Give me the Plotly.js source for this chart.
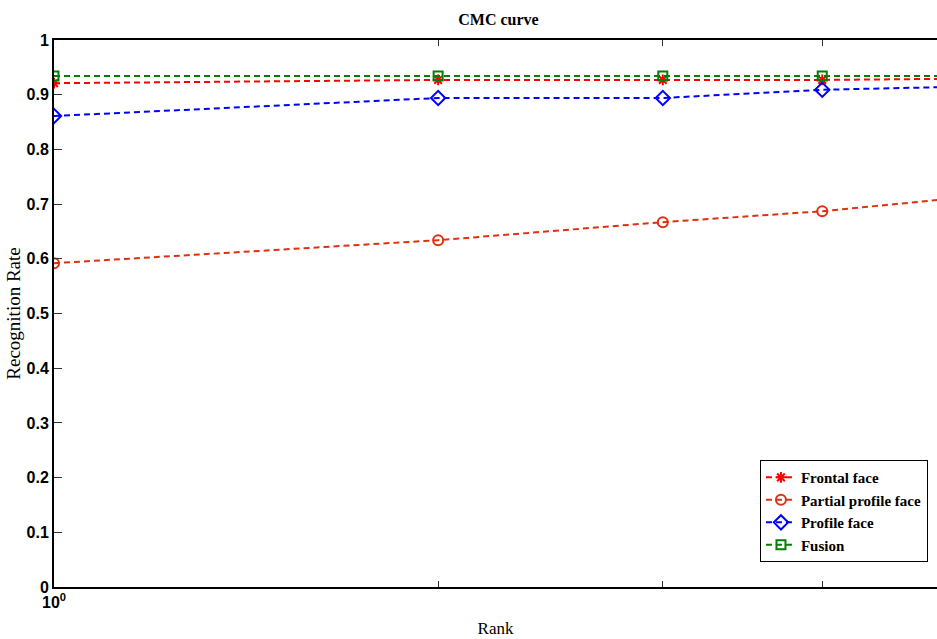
<!DOCTYPE html>
<html><head><meta charset="utf-8">
<script src="https://cdn.plot.ly/plotly-3.0.1.min.js"></script>
<style>html,body{margin:0;padding:0;background:#fff}#chart{width:937px;height:639px}</style>
</head><body><div id="chart"></div>
<script>
const rank = [1, 2, 3, 4, 5];
const frontal = [0.921, 0.927, 0.927, 0.927, 0.929];
const partial = [0.592, 0.634, 0.667, 0.687, 0.709];
const profile = [0.861, 0.894, 0.894, 0.909, 0.914];
const fusion = [0.934, 0.934, 0.934, 0.934, 0.934];
const yTicks = [0, 0.1, 0.2, 0.3, 0.4, 0.5, 0.6, 0.7, 0.8, 0.9, 1];
const yTickText = ['0', '0.1', '0.2', '0.3', '0.4', '0.5', '0.6', '0.7', '0.8', '0.9', '1'];
const xTicks = [1, 2, 3, 4];
const xTickText = ['10<sup>0</sup>', '', '', ''];

function tr(name, y, color, symbol, size) {
  return {x: rank, y: y, name: name, type: 'scatter', mode: 'lines+markers',
    line: {color: color, width: 2, dash: '6px,4px'},
    marker: {symbol: symbol, size: size, color: color, line: {color: color, width: 2}},
    cliponaxis: true};
}
const data = [
  tr('Frontal face', frontal, '#ff0000', 'asterisk-open', 9),
  tr('Partial profile face', partial, '#e03010', 'circle-open', 10),
  tr('Profile face', profile, '#0000ff', 'diamond-open', 11),
  tr('Fusion', fusion, '#008000', 'square-open', 9)
];
const tickFont = {family: 'Liberation Sans Narrow, Liberation Sans', size: 16, color: '#000', weight: 'bold'};
const layout = {
  width: 937, height: 639,
  margin: {l: 54, r: 0, t: 40, b: 52},
  paper_bgcolor: '#fff', plot_bgcolor: '#fff',
  showlegend: true,
  title: {text: 'CMC curve', x: 0.532, xanchor: 'center', y: 0.978, yanchor: 'top',
    font: {family: 'Liberation Serif', size: 16, color: '#000', weight: 'bold'}},
  xaxis: {type: 'log', range: [0, 0.692], tickvals: xTicks, ticktext: xTickText,
    ticks: 'inside', ticklen: 6, tickcolor: '#333', showline: true, linecolor: '#000', linewidth: 2,
    mirror: 'ticks', showgrid: false, zeroline: false,
    tickfont: tickFont,
    title: {text: 'Rank', standoff: 12, font: {family: 'Liberation Serif', size: 17, color: '#000'}}},
  yaxis: {range: [0, 1], tickvals: yTicks, ticktext: yTickText,
    ticks: 'inside', ticklen: 8, tickcolor: '#333', showline: true, linecolor: '#000', linewidth: 2,
    mirror: false, showgrid: false, zeroline: false,
    tickfont: tickFont,
    title: {text: 'Recognition Rate', standoff: 1, font: {family: 'Liberation Serif', size: 19, color: '#000'}}},
  legend: {x: 0.7995, y: 0.232, xanchor: 'left', yanchor: 'top',
    bgcolor: '#fff', bordercolor: '#000', borderwidth: 1,
    font: {family: 'Liberation Serif', size: 15, color: '#000', weight: 'bold'},
    itemwidth: 30, tracegroupgap: 0}
};
Plotly.newPlot('chart', data, layout, {displayModeBar: false, staticPlot: true});
</script></body></html>
